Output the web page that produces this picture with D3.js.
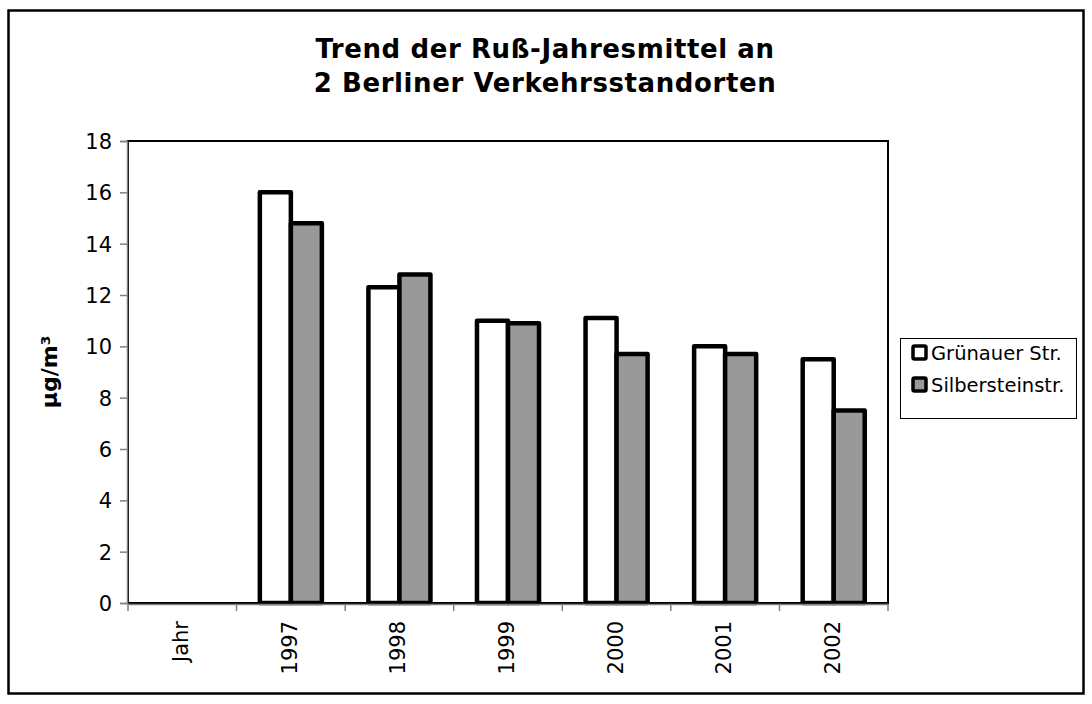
<!DOCTYPE html>
<html>
<head>
<meta charset="utf-8">
<script src="https://cdn.jsdelivr.net/npm/d3@7"></script>
<style>
  html, body { margin: 0; padding: 0; background: #fff; }
  svg { display: block; }
  text { font-family: "DejaVu Sans", sans-serif; fill: #000; }
</style>
</head>
<body>
<svg id="chart" width="1092" height="704"></svg>
<script>
// Annual soot means at two Berlin traffic sites
const categories = ["Jahr", "1997", "1998", "1999", "2000", "2001", "2002"];
const grunauer = [null, 16.0, 12.3, 11.0, 11.1, 10.0, 9.5];
const silberstein = [null, 14.8, 12.8, 10.9, 9.7, 9.7, 7.5];
const seriesNames = ["Grünauer Str.", "Silbersteinstr."];
const yTicks = [0, 2, 4, 6, 8, 10, 12, 14, 16, 18];
const titleLines = ["Trend der Ruß-Jahresmittel an", "2 Berliner Verkehrsstandorten"];
const yLabel = "µg/m³";

const seriesFill = ["#ffffff", "#999999"];

const svg = d3.select("#chart");

// outer frame
svg.append("rect")
  .attr("x", 8.5).attr("y", 10.5)
  .attr("width", 1075).attr("height", 683)
  .attr("fill", "#fff").attr("stroke", "#000").attr("stroke-width", 2.5);

const plot = { left: 128, top: 141, right: 888, bottom: 603 };

const x = d3.scaleBand()
  .domain(categories)
  .range([plot.left, plot.right])
  .paddingInner(0).paddingOuter(0);

const y = d3.scaleLinear().domain([0, 18]).range([plot.bottom, plot.top]);

// bar layout inside each category: two bars, gap width 150 %
const barW = x.bandwidth() / 3.5;
const inner = d3.scaleBand().domain([0, 1])
  .range([barW * 0.75, barW * 0.75 + 2 * barW]);

// plot area frame
svg.append("rect")
  .attr("x", plot.left).attr("y", plot.top)
  .attr("width", plot.right - plot.left).attr("height", plot.bottom - plot.top)
  .attr("fill", "none").attr("stroke", "#000").attr("stroke-width", 2);

// bars
const rows = categories.map((c, i) => ({ c, v: [grunauer[i], silberstein[i]] }));
const groups = svg.append("g").selectAll("g")
  .data(rows).join("g")
  .attr("transform", d => `translate(${x(d.c)},0)`);

groups.selectAll("rect")
  .data(d => d.v.map((v, s) => ({ v, s })).filter(e => e.v != null))
  .join("rect")
  .attr("x", e => inner(e.s))
  .attr("width", inner.bandwidth())
  .attr("y", e => y(e.v))
  .attr("height", e => y(0) - y(e.v))
  .attr("fill", e => seriesFill[e.s])
  .attr("stroke", "#000")
  .attr("stroke-width", 4.5)
  .attr("stroke-linejoin", "round");

// y axis
const yAxis = svg.append("g")
  .attr("transform", `translate(${plot.left - 1},0)`)
  .call(d3.axisLeft(y).tickValues(yTicks).tickSize(7).tickPadding(8).tickFormat(d3.format("d")));
yAxis.select(".domain").attr("stroke", "#808080").attr("stroke-width", 1.5);
yAxis.selectAll(".tick line").attr("stroke", "#808080").attr("stroke-width", 1.5);
yAxis.selectAll(".tick text")
  .style("font-family", "'DejaVu Sans', sans-serif")
  .attr("font-size", 21).attr("dy", "0.36em");

// x axis
const xAxis = svg.append("g")
  .attr("transform", `translate(0,${plot.bottom + 1})`)
  .call(d3.axisBottom(x).tickSize(0).tickFormat(""));
xAxis.select(".domain").attr("stroke", "#808080").attr("stroke-width", 1.5);

// category boundary ticks
const edges = categories.map(c => x(c)).concat([plot.right]);
svg.append("g").selectAll("line")
  .data(edges).join("line")
  .attr("x1", d => d).attr("x2", d => d)
  .attr("y1", plot.bottom + 1).attr("y2", plot.bottom + 8)
  .attr("stroke", "#808080").attr("stroke-width", 1.5);

// rotated category labels
svg.append("g").selectAll("text")
  .data(categories).join("text")
  .attr("transform", d => `translate(${x(d) + x.bandwidth() / 2 + 6},${plot.bottom + 18}) rotate(-90)`)
  .attr("text-anchor", "end")
  .attr("font-size", 21)
  .text(d => d);

// y axis title
svg.append("text")
  .attr("transform", `translate(57,${(plot.top + plot.bottom) / 2}) rotate(-90)`)
  .attr("text-anchor", "middle")
  .attr("font-size", 22).attr("font-weight", "bold")
  .text(yLabel);

// chart title
svg.append("g").selectAll("text")
  .data(titleLines).join("text")
  .attr("x", 545).attr("y", (d, i) => 58 + i * 34)
  .attr("text-anchor", "middle")
  .attr("font-size", 26).attr("font-weight", "bold")
  .attr("letter-spacing", 0.6)
  .text(d => d);

// legend
const lg = svg.append("g");
lg.append("rect")
  .attr("x", 900.5).attr("y", 338.5).attr("width", 176).attr("height", 80)
  .attr("fill", "#fff").attr("stroke", "#000").attr("stroke-width", 1);
const items = lg.selectAll("g.item").data(seriesNames).join("g")
  .attr("class", "item")
  .attr("transform", (d, i) => `translate(0,${i * 32})`);
items.append("rect")
  .attr("x", 913).attr("y", 346).attr("width", 13).attr("height", 13)
  .attr("fill", (d, i) => seriesFill[i])
  .attr("stroke", "#000").attr("stroke-width", 3.5).attr("rx", 1.5);
items.append("text")
  .attr("x", 931).attr("y", 360)
  .attr("font-size", 19.5)
  .text(d => d);
</script>
</body>
</html>
